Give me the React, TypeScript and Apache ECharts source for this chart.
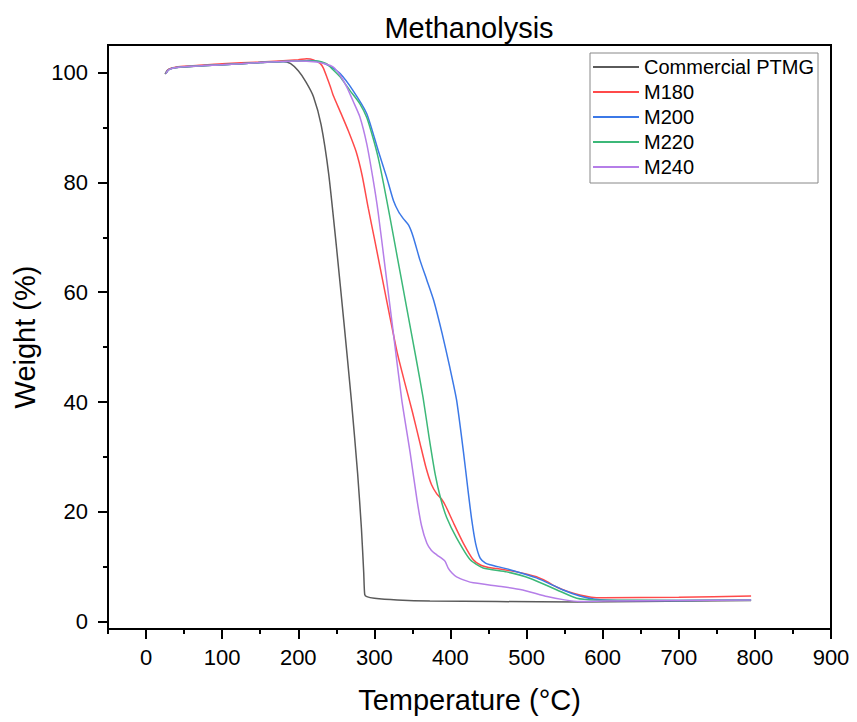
import React, { useEffect, useRef } from "react";
import * as echarts from "echarts";

const seriesNames = ["Commercial PTMG", "M180", "M200", "M220", "M240"];
const seriesColors = ["#5a5a5a", "#ff4a4a", "#3b78e7", "#3cb878", "#b57ee8"];

const ptmgT = [25, 28, 35, 50, 100, 150, 180, 190, 200, 210, 220, 230, 240, 250, 260, 270, 278, 283, 286, 287.3, 290, 300, 330, 373, 461, 570, 650, 795];
const ptmgW = [99.7, 100.4, 100.8, 101.0, 101.4, 101.8, 102.0, 101.6, 100.3, 98.3, 95.6, 90.5, 81.5, 68.5, 54.5, 40.0, 27.0, 17.0, 9.0, 5.0, 4.6, 4.3, 4.0, 3.8, 3.7, 3.6, 3.7, 3.9];

const m180T = [26, 30, 40, 60, 100, 150, 200, 211, 220, 229, 233, 238, 242, 246, 256, 266, 276, 284, 292, 300, 310, 320, 330, 340, 350, 360, 368, 375, 382, 388, 394, 404, 417, 430, 440, 450, 461, 487, 513, 527, 540, 555, 570, 585, 600, 700, 795];
const m180W = [99.8, 100.6, 101.0, 101.2, 101.6, 101.9, 102.3, 102.5, 102.3, 101.6, 100.8, 99.0, 97.5, 95.8, 92.6, 89.3, 85.6, 81.2, 75.3, 69.8, 62.8, 55.8, 49.0, 43.5, 38.2, 32.5, 28.0, 25.0, 23.3, 22.4, 21.0, 18.0, 14.3, 11.3, 10.3, 9.9, 9.7, 9.1, 8.2, 7.3, 6.3, 5.5, 4.9, 4.5, 4.4, 4.5, 4.7];

const m200T = [26, 30, 40, 100, 150, 200, 215, 229, 242, 255, 272, 290, 305, 316, 325, 332, 338, 345, 351, 360, 369, 378, 389, 399, 408, 417, 423, 428, 433, 439, 446, 452, 478, 513, 548, 570, 590, 620, 700, 795];
const m200W = [99.8, 100.5, 100.9, 101.4, 101.8, 102.1, 102.2, 101.9, 101.1, 99.8, 96.7, 92.5, 85.8, 81.0, 76.7, 74.6, 73.4, 72.2, 70.1, 65.8, 62.2, 58.5, 52.5, 46.4, 40.4, 31.0, 24.0, 18.5, 14.3, 11.6, 10.7, 10.4, 9.5, 8.0, 5.8, 4.7, 4.1, 3.9, 3.9, 4.0];

const m220T = [26, 30, 40, 100, 150, 200, 225, 237, 245, 255, 268, 281, 290, 298, 305, 312, 320, 330, 342, 355, 364, 372, 380, 387, 395, 408, 426, 443, 474, 505, 540, 566, 590, 700, 795];
const m220W = [99.8, 100.5, 100.9, 101.4, 101.8, 102.1, 102.1, 101.6, 100.6, 99.2, 96.7, 94.3, 91.8, 88.2, 84.5, 79.8, 74.0, 66.5, 57.5, 47.8, 40.8, 33.5, 26.8, 22.5, 19.0, 15.3, 11.3, 9.8, 9.1, 7.9, 5.8, 4.3, 4.0, 3.9, 4.0];

const m240T = [26, 30, 40, 100, 150, 200, 224, 235, 246, 255, 264, 272, 281, 290, 298, 305, 314, 325, 336, 347, 356, 362, 369, 375, 382, 389, 393, 397, 402, 408, 420, 430, 469, 495, 527, 550, 570, 600, 700, 795];
const m240W = [99.8, 100.5, 100.9, 101.4, 101.8, 102.1, 101.9, 101.6, 101.0, 99.5, 97.3, 94.8, 91.9, 87.0, 80.8, 74.5, 64.6, 52.5, 40.4, 30.8, 22.2, 17.5, 14.3, 13.0, 12.2, 11.5, 11.0, 9.8, 8.9, 8.2, 7.5, 7.1, 6.4, 5.8, 4.6, 4.0, 3.7, 3.8, 3.9, 4.0];

const xMajorTicks = [0, 100, 200, 300, 400, 500, 600, 700, 800, 900];
const xMinorTicks = [-50, 50, 150, 250, 350, 450, 550, 650, 750, 850];
const yMajorTicks = [0, 20, 40, 60, 80, 100];
const yMinorTicks = [10, 30, 50, 70, 90];

const allT = [ptmgT, m180T, m200T, m220T, m240T];
const allW = [ptmgW, m180W, m200W, m220W, m240W];

const FONT = "'Liberation Sans', Arial, sans-serif";

export default function App() {
  const ref = useRef<HTMLDivElement>(null);
  useEffect(() => {
    if (!ref.current) return;
    const chart = echarts.init(ref.current, null, { renderer: "svg" });
    const series = seriesNames.map((name, i) => ({
      name,
      type: "line",
      xAxisIndex: 0,
      yAxisIndex: 0,
      data: allT[i].map((t, j) => [t, allW[i][j]]),
      symbol: "none",
      showSymbol: false,
      smooth: 0.2,
      lineStyle: { color: seriesColors[i], width: 1.5 },
      itemStyle: { color: seriesColors[i] },
      z: 2 + i,
    }));
    chart.setOption({
      animation: false,
      backgroundColor: "#ffffff",
      textStyle: { fontFamily: FONT },
      graphic: [
        {
          type: "text",
          x: 469,
          y: 28,
          style: {
            text: "Methanolysis",
            fontSize: 29,
            fontFamily: FONT,
            fill: "#000",
            textAlign: "center",
            textVerticalAlign: "middle",
          },
        },
      ],
      legend: {
        orient: "vertical",
        left: 590,
        top: 53,
        data: seriesNames,
        icon: "rect",
        itemWidth: 46,
        itemHeight: 2,
        itemGap: 5,
        padding: [4, 4, 6, 3],
        borderColor: "#888",
        borderWidth: 1,
        textStyle: { fontSize: 20, fontFamily: FONT, color: "#000", lineHeight: 20 },
      },
      grid: {
        left: 108,
        top: 45,
        right: 26,
        bottom: 93,
        show: true,
        borderColor: "#000",
        borderWidth: 2,
        containLabel: false,
      },
      xAxis: [
        {
          type: "value",
          min: -50,
          max: 900,
          name: "Temperature (°C)",
          nameLocation: "middle",
          nameGap: 56,
          nameTextStyle: { fontSize: 29, fontFamily: FONT, color: "#000" },
          axisLine: { show: true, onZero: false, lineStyle: { color: "#000", width: 2 } },
          axisTick: { show: true, inside: false, length: 10, customValues: xMajorTicks, lineStyle: { color: "#000", width: 2 } },
          axisLabel: { show: true, customValues: xMajorTicks, fontSize: 22, fontFamily: FONT, color: "#000", margin: 17 },
          splitLine: { show: false },
        },
        {
          type: "value",
          min: -50,
          max: 900,
          position: "bottom",
          axisLine: { show: false, onZero: false },
          axisTick: { show: true, inside: false, length: 5, customValues: xMinorTicks, lineStyle: { color: "#000", width: 2 } },
          axisLabel: { show: false },
          splitLine: { show: false },
        },
      ],
      yAxis: [
        {
          type: "value",
          min: -1.3,
          max: 105,
          name: "Weight (%)",
          nameLocation: "middle",
          nameGap: 69,
          nameRotate: 90,
          nameTextStyle: { fontSize: 29, fontFamily: FONT, color: "#000" },
          axisLine: { show: true, onZero: false, lineStyle: { color: "#000", width: 2 } },
          axisTick: { show: true, inside: false, length: 10, customValues: yMajorTicks, lineStyle: { color: "#000", width: 2 } },
          axisLabel: { show: true, customValues: yMajorTicks, fontSize: 22, fontFamily: FONT, color: "#000", margin: 20 },
          splitLine: { show: false },
        },
        {
          type: "value",
          min: -1.3,
          max: 105,
          position: "left",
          axisLine: { show: false, onZero: false },
          axisTick: { show: true, inside: false, length: 5, customValues: yMinorTicks, lineStyle: { color: "#000", width: 2 } },
          axisLabel: { show: false },
          splitLine: { show: false },
        },
      ],
      series,
    });
    return () => chart.dispose();
  }, []);
  return <div ref={ref} style={{ width: 857, height: 722, position: "absolute", left: 0, top: 0 }} />;
}
